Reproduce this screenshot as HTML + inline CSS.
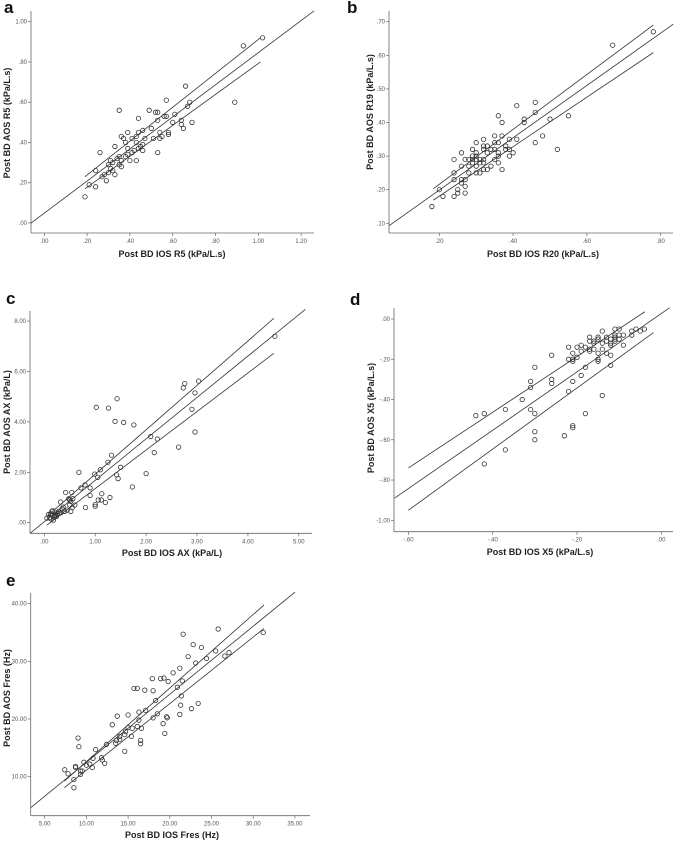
<!DOCTYPE html>
<html><head><meta charset="utf-8"><style>
body{margin:0;background:#fff}
svg text{font-family:"Liberation Sans",Arial,sans-serif}
.tk{font-size:6px;fill:#555}
.al{font-size:9px;font-weight:bold;fill:#222}
.pl{font-size:17px;font-weight:bold;fill:#111}
</style></head><body>
<svg id="fig" width="677" height="841" viewBox="0 0 677 841" xmlns="http://www.w3.org/2000/svg"></svg>
<script>
// ---- Panel a data ----
const aX=[.19,.21,.24,.24,.26,.27,.28,.29,.30,.30,.31,.31,.32,.32,.33,.33,.34,.35,.35,.35,.36,.36,.36,.37,.38,.38,.39,.39,.39,.40,.41,.41,.42,.43,.43,.43,.44,.44,.44,.45,.46,.46,.46,.47,.49,.50,.51,.52,.53,.53,.53,.54,.54,.55,.56,.57,.57,.58,.58,.60,.61,.64,.64,.65,.66,.67,.68,.69,.89,.93,1.02];
const aY=[.13,.19,.18,.26,.35,.23,.24,.21,.25,.29,.27,.31,.26,.30,.24,.38,.32,.33,.29,.56,.28,.31,.43,.42,.40,.33,.34,.37,.45,.31,.35,.42,.36,.31,.43,.40,.52,.45,.37,.38,.46,.36,.39,.42,.56,.47,.42,.55,.55,.51,.35,.42,.45,.43,.53,.53,.61,.44,.45,.50,.54,.51,.49,.47,.68,.58,.60,.50,.60,.88,.92];
const aReg=[0.049,0.797]; const aRegX=[-0.062,1.26];
const aUpX=[.19,1.01]; const aUpY=[.23,.92];
const aLoX=[.19,1.01]; const aLoY=[.17,.80];
const aXTicks=[0,.2,.4,.6,.8,1,1.2]; const aYTicks=[0,.2,.4,.6,.8,1];
// ---- Panel b data ----
const bX=[.18,.20,.21,.24,.24,.24,.24,.25,.25,.26,.26,.26,.26,.27,.27,.27,.27,.28,.28,.28,.29,.29,.29,.29,.30,.30,.30,.30,.30,.30,.31,.31,.31,.32,.32,.32,.32,.32,.32,.33,.33,.33,.34,.34,.35,.35,.35,.35,.36,.36,.36,.36,.36,.37,.37,.37,.38,.38,.39,.39,.39,.40,.41,.41,.43,.43,.46,.46,.46,.48,.50,.52,.55,.67,.78];
const bY=[.15,.20,.18,.29,.25,.23,.18,.20,.19,.31,.27,.23,.22,.29,.23,.21,.19,.29,.27,.25,.32,.30,.29,.28,.34,.31,.30,.29,.27,.25,.29,.28,.25,.35,.33,.32,.29,.28,.26,.33,.31,.26,.32,.27,.36,.34,.32,.29,.42,.34,.31,.30,.28,.40,.36,.26,.33,.32,.35,.32,.30,.31,.45,.35,.41,.40,.46,.43,.34,.36,.41,.32,.42,.63,.67];
const bReg=[0.043,0.779]; const bRegX=[0.064,0.834];
const bUpX=[.184,.78]; const bUpY=[.203,.69];
const bLoX=[.184,.78]; const bLoY=[.169,.608];
const bXTicks=[.2,.4,.6,.8]; const bYTicks=[.1,.2,.3,.4,.5,.6,.7];
// ---- Panel c data ----
const cX=[.05,.08,.10,.12,.13,.15,.16,.17,.18,.19,.20,.22,.24,.26,.28,.30,.32,.33,.35,.37,.40,.42,.45,.48,.50,.50,.52,.52,.54,.55,.56,.60,.68,.72,.80,.81,.90,.90,.99,1.0,1.0,1.02,1.05,1.06,1.1,1.12,1.13,1.2,1.25,1.26,1.29,1.32,1.39,1.42,1.43,1.45,1.5,1.56,1.73,1.76,2.0,2.09,2.16,2.22,2.64,2.73,2.76,2.9,2.96,2.96,3.03,4.53];
const cY=[.18,.32,.2,.35,.15,.45,.3,.48,.1,.22,.28,.3,.25,.35,.45,.38,.82,.4,.55,.62,.45,1.2,.5,.95,.7,.9,.45,.85,1.2,.6,.95,.7,2.0,1.38,1.5,.6,1.38,1.08,1.93,.65,.72,4.58,1.8,.9,2.1,.9,1.15,.8,2.4,4.55,1.0,2.68,4.02,1.9,4.92,1.75,2.2,3.98,1.42,3.88,1.95,3.42,2.78,3.32,3.0,5.35,5.52,4.5,5.15,3.6,5.62,7.4];
const cReg=[0.04,1.643]; const cRegX=[-0.28,5.13];
const cUpX=[.05,4.51]; const cUpY=[.25,8.11];
const cLoX=[.05,4.51]; const cLoY=[-.1,6.72];
const cXTicks=[0,1,2,3,4,5]; const cYTicks=[0,2,4,6,8];
// ---- Panel d data ----
const dX=[-.44,-.42,-.42,-.37,-.37,-.33,-.31,-.31,-.31,-.30,-.30,-.30,-.30,-.26,-.26,-.26,-.23,-.22,-.22,-.22,-.21,-.21,-.21,-.21,-.21,-.21,-.20,-.20,-.19,-.19,-.19,-.18,-.18,-.18,-.17,-.17,-.17,-.17,-.16,-.16,-.16,-.15,-.15,-.15,-.15,-.15,-.14,-.14,-.14,-.14,-.13,-.13,-.13,-.12,-.12,-.12,-.12,-.12,-.11,-.11,-.11,-.11,-.11,-.10,-.10,-.10,-.09,-.09,-.07,-.07,-.06,-.05,-.04];
const dY=[-.48,-.47,-.72,-.45,-.65,-.40,-.31,-.34,-.45,-.24,-.47,-.56,-.60,-.18,-.30,-.32,-.58,-.14,-.20,-.36,-.20,-.21,-.17,-.31,-.53,-.54,-.14,-.19,-.13,-.16,-.28,-.14,-.24,-.47,-.09,-.11,-.15,-.16,-.11,-.12,-.15,-.09,-.10,-.17,-.20,-.21,-.06,-.12,-.15,-.38,-.09,-.11,-.17,-.10,-.12,-.13,-.18,-.23,-.05,-.08,-.09,-.10,-.11,-.05,-.08,-.10,-.08,-.13,-.06,-.08,-.05,-.06,-.05];
const dReg=[0.027,1.449]; const dRegX=[-0.633,0.02];
const dUpX=[-.6,-.039]; const dUpY=[-.74,.036];
const dLoX=[-.6,-.019]; const dLoY=[-.95,-.068];
const dXTicks=[-.6,-.4,-.2,0]; const dYTicks=[0,-.2,-.4,-.6,-.8,-1];
// ---- Panel e data ----
const eX=[7.4,7.8,8.5,8.5,8.7,8.7,9.0,9.1,9.3,9.3,9.5,9.7,10.0,10.4,10.7,10.8,11.1,11.8,11.9,12.2,12.4,13.1,13.5,13.6,13.7,14.0,14.0,14.6,14.6,14.7,15.0,15.0,15.4,15.5,15.7,16.1,16.1,16.3,16.3,16.5,16.5,16.6,17.0,17.1,17.9,18.0,18.0,18.3,18.5,18.9,19.2,19.3,19.4,19.6,19.7,19.8,20.4,20.9,21.2,21.2,21.3,21.4,21.5,21.6,22.2,22.6,22.8,23.1,23.4,23.8,24.4,25.5,25.8,26.6,27.1,31.2];
const eY=[11.2,10.5,9.5,8.1,11.8,11.6,16.7,15.2,11.0,10.4,11.0,12.5,12.0,12.2,11.6,13.2,14.7,13.3,12.9,12.3,15.6,19.0,15.8,16.3,20.5,16.5,17.0,17.3,14.4,17.8,20.7,18.5,17.0,18.4,25.3,25.3,18.7,21.2,19.8,16.3,15.7,18.4,25.0,21.5,27.0,24.9,20.2,23.2,20.9,27.0,19.2,27.1,17.5,20.4,20.2,26.5,28.0,25.5,20.8,28.8,22.4,24.0,26.6,34.7,30.8,21.8,32.9,29.7,22.7,32.4,30.5,31.8,35.6,30.9,31.5,35.0];
const eReg=[0.71,1.179]; const eRegX=[3.32,35];
const eUpX=[7.36,31.3]; const eUpY=[9.25,39.77];
const eLoX=[7.36,31.3]; const eLoY=[8.1,35.7];
const eXTicks=[5,10,15,20,25,30,35]; const eYTicks=[10,20,30,40];

const NS="http://www.w3.org/2000/svg";
const svg=document.getElementById('fig');
function mk(tag,attrs,parent){const e=document.createElementNS(NS,tag);for(const k in attrs)e.setAttribute(k,attrs[k]);(parent||svg).appendChild(e);return e;}
function fmt(v){let s=Math.abs(v).toFixed(2);if(s.startsWith('0'))s=s.slice(1);return (v<0?'-':'')+s;}

function panel(cfg){
  const g=mk('g',{});
  
  
  const sx=v=>cfg.x0+(v-cfg.vx0)*cfg.kx;
  const sy=v=>cfg.y0-(v-cfg.vy0)*cfg.ky;
  const lt=mk('text',{x:cfg.lx,y:cfg.ly,class:'pl'},g);lt.textContent=cfg.id;
  
  
  const xa=mk('line',{x1:cfg.ax,y1:cfg.ay,x2:cfg.axEnd,y2:cfg.ay,stroke:'#666','stroke-width':0.8},g);
  
  
  const ya=mk('line',{x1:cfg.ax,y1:cfg.ay,x2:cfg.ax,y2:cfg.ayTop,stroke:'#666','stroke-width':0.8},g);
  
  
  cfg.xt.forEach(v=>{const p=sx(v);
    mk('line',{x1:p,y1:cfg.ay,x2:p,y2:cfg.ay+3,stroke:'#666','stroke-width':0.7},g);
    const t=mk('text',{x:p,y:cfg.ay+10,class:'tk','text-anchor':'middle'},g);t.textContent=fmt(v);
    
    });
  cfg.yt.forEach(v=>{const p=sy(v);
    mk('line',{x1:cfg.ax-3,y1:p,x2:cfg.ax,y2:p,stroke:'#666','stroke-width':0.7},g);
    const t=mk('text',{x:cfg.ax-4,y:p+2,class:'tk','text-anchor':'end'},g);t.textContent=fmt(v);
    
    });
  const xl=mk('text',{x:cfg.xlx,y:cfg.xly,class:'al','text-anchor':'middle'},g);xl.textContent=cfg.xlab;
  
  
  const yl=mk('text',{x:0,y:0,class:'al','text-anchor':'middle',transform:`translate(${cfg.ylx},${cfg.yly}) rotate(-90)`},g);yl.textContent=cfg.ylab;
  
  
  const r=cfg.reg,rx=cfg.regX;
  const rl=mk('line',{x1:sx(rx[0]),y1:sy(r[0]+r[1]*rx[0]),x2:sx(rx[1]),y2:sy(r[0]+r[1]*rx[1]),stroke:'#333','stroke-width':0.8},g);
  
  
  const ul=mk('line',{x1:sx(cfg.upX[0]),y1:sy(cfg.upY[0]),x2:sx(cfg.upX[1]),y2:sy(cfg.upY[1]),stroke:'#333','stroke-width':0.8},g);
  
  
  const ll=mk('line',{x1:sx(cfg.loX[0]),y1:sy(cfg.loY[0]),x2:sx(cfg.loX[1]),y2:sy(cfg.loY[1]),stroke:'#333','stroke-width':0.8},g);
  
  
  cfg.X.forEach((v,i)=>{const c=mk('circle',{cx:sx(v),cy:sy(cfg.Y[i]),r:2.2,fill:'none',stroke:'#333','stroke-width':0.8},g);
    
    });
}
panel({id:'a',X:aX,Y:aY,reg:aReg,regX:aRegX,upX:aUpX,upY:aUpY,loX:aLoX,loY:aLoY,xt:aXTicks,yt:aYTicks,
 x0:44.3,vx0:0,kx:214,y0:223,vy0:0,ky:201.3,ax:31,ay:233,axEnd:314,ayTop:11,lx:4,ly:13,
 xlab:'Post BD IOS R5 (kPa/L.s)',xlx:172,xly:257,ylab:'Post BD AOS R5 (kPa/L.s)',ylx:10,yly:123});
panel({id:'b',X:bX,Y:bY,reg:bReg,regX:bRegX,upX:bUpX,upY:bUpY,loX:bLoX,loY:bLoY,xt:bXTicks,yt:bYTicks,
 x0:439.3,vx0:.2,kx:369,y0:223.3,vy0:.1,ky:336,ax:389,ay:233,axEnd:673,ayTop:11,lx:347,ly:13,
 xlab:'Post BD IOS R20 (kPa/L.s)',xlx:543,xly:257,ylab:'Post BD AOS R19 (kPa/L.s)',ylx:373,yly:112});
panel({id:'c',X:cX,Y:cY,reg:cReg,regX:cRegX,upX:cUpX,upY:cUpY,loX:cLoX,loY:cLoY,xt:cXTicks,yt:cYTicks,
 x0:44.3,vx0:0,kx:50.9,y0:522.7,vy0:0,ky:25.2,ax:30,ay:533.3,axEnd:312,ayTop:311,lx:6,ly:304,
 xlab:'Post BD IOS AX (kPa/L)',xlx:172,xly:556,ylab:'Post BD AOS AX (kPa/L)',ylx:10,yly:422});
panel({id:'d',X:dX,Y:dY,reg:dReg,regX:dRegX,upX:dUpX,upY:dUpY,loX:dLoX,loY:dLoY,xt:dXTicks,yt:dYTicks,
 x0:661.3,vx0:0,kx:421.5,y0:319,vy0:0,ky:201.3,ax:394,ay:531.7,axEnd:673,ayTop:308,lx:350,ly:305,
 xlab:'Post BD IOS X5  (kPa/L.s)',xlx:540,xly:555,ylab:'Post BD AOS X5 (kPa/L.s)',ylx:374,yly:418});
panel({id:'e',X:eX,Y:eY,reg:eReg,regX:eRegX,upX:eUpX,upY:eUpY,loX:eLoX,loY:eLoY,xt:eXTicks,yt:eYTicks,
 x0:44.7,vx0:5,kx:8.34,y0:776.7,vy0:10,ky:5.77,ax:30.7,ay:815.7,axEnd:310,ayTop:593,lx:6,ly:586,
 xlab:'Post BD IOS Fres (Hz)',xlx:172,xly:838,ylab:'Post BD AOS Fres (Hz)',ylx:10,yly:698});
</script>
</body></html>
